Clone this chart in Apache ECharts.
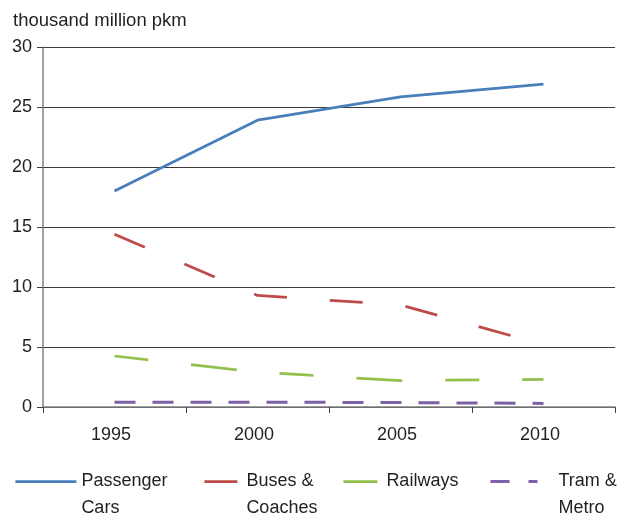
<!DOCTYPE html>
<html>
<head>
<meta charset="utf-8">
<script src="https://cdn.jsdelivr.net/npm/echarts@6/dist/echarts.min.js"></script>
<style>
  html, body { margin: 0; padding: 0; background: #fff; }
  #chart { width: 624px; height: 516px; }
</style>
</head>
<body>
<div id="chart"></div>
<script>
// Passenger transport by mode, thousand million passenger-km
const years = ['1995', '2000', '2005', '2010'];
const passengerCars = [18.0, 23.9, 25.85, 26.9];
const busesCoaches = [14.4, 9.3, 8.5, 5.2];
const railways = [4.25, 2.9, 2.2, 2.3];
const tramMetro = [0.4, 0.4, 0.37, 0.3];

const FONT = '"Liberation Sans", Arial, sans-serif';
const TEXT = '#231f20';

const seriesDefs = [
  { name: 'Passenger\nCars', data: passengerCars, color: '#4a7ebb', dash: 'solid', width: 2.75 },
  { name: 'Buses &\nCoaches', data: busesCoaches, color: '#be4b48', dash: [33, 43], width: 2.75 },
  { name: 'Railways', data: railways, color: '#94c04e', dash: [34, 43, 46, 43], width: 2.75 },
  { name: 'Tram &\nMetro', data: tramMetro, color: '#7d60a8', dash: [21, 17], width: 3 }
];

// one legend block per series so each icon can have its own length
const legendSpec = [
  { left: 14, itemWidth: 61, top: 441, twoLine: true, dash: 'solid' },
  { left: 203, itemWidth: 37, top: 441, twoLine: true, dash: [33, 43] },
  { left: 342, itemWidth: 38, top: 468, twoLine: false, dash: [34, 43] },
  { left: 489, itemWidth: 63, top: 441, twoLine: true, dash: [19, 19, 9, 100] }
];

const chart = echarts.init(document.getElementById('chart'), null, { renderer: 'canvas' });

chart.setOption({
  backgroundColor: '#ffffff',
  animation: false,
  title: {
    text: 'thousand million pkm',
    left: 13,
    top: 11,
    padding: 0,
    textStyle: { fontFamily: FONT, fontSize: 18.5, fontWeight: 'normal', color: TEXT }
  },
  legend: seriesDefs.map((s, i) => {
    const spec = legendSpec[i];
    return {
      data: [{ name: s.name, lineStyle: { type: spec.dash, width: s.width } }],
      left: spec.left,
      top: spec.top,
      padding: 0,
      itemWidth: spec.itemWidth,
      itemHeight: 14,
      selectedMode: false,
      itemStyle: { opacity: 0 },
      // a leading blank line keeps the first text line level with the icon
      formatter: name => (spec.twoLine ? '\n' + name : name),
      textStyle: { fontFamily: FONT, fontSize: 18, color: TEXT, lineHeight: 27 }
    };
  }),
  grid: { left: 43, right: 9, top: 47, bottom: 109, containLabel: false },
  xAxis: {
    type: 'category',
    data: years,
    boundaryGap: true,
    axisLine: { show: true, lineStyle: { color: '#808080', width: 1.5 } },
    axisTick: { show: true, length: 6, alignWithLabel: false, lineStyle: { color: '#404040' } },
    axisLabel: { fontFamily: FONT, fontSize: 18, color: TEXT, margin: 19, padding: [0, 7, 0, 0] },
    splitLine: { show: false }
  },
  yAxis: {
    type: 'value',
    min: 0,
    max: 30,
    interval: 5,
    axisLine: { show: true, lineStyle: { color: '#808080', width: 1.5 } },
    axisTick: { show: true, length: 6, lineStyle: { color: '#404040' } },
    axisLabel: { fontFamily: FONT, fontSize: 18, color: TEXT, margin: 11 },
    splitLine: { show: true, lineStyle: { color: '#3a3a3a', width: 1 } }
  },
  series: seriesDefs.map(s => ({
    name: s.name,
    type: 'line',
    data: s.data,
    symbol: 'none',
    smooth: false,
    color: s.color,
    lineStyle: { color: s.color, width: s.width, type: s.dash, cap: 'butt' },
    emphasis: { disabled: true }
  }))
});
</script>
</body>
</html>
